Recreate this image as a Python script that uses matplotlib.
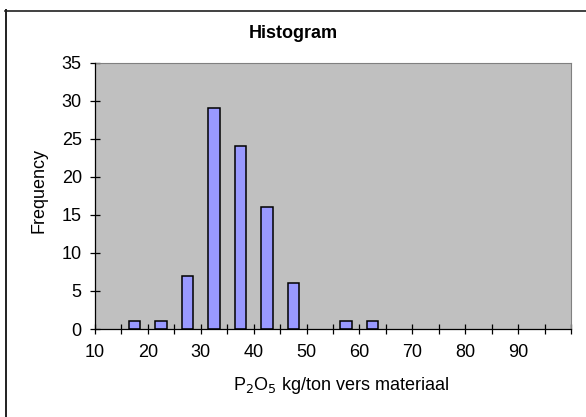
import matplotlib
matplotlib.use("Agg")
import matplotlib.pyplot as plt
from matplotlib.lines import Line2D
import numpy as np

# Histogram bins (lower edges, width 5) and frequencies
bin_lower = [10, 15, 20, 25, 30, 35, 40, 45, 50, 55, 60, 65, 70, 75, 80, 85, 90, 95]
counts = [0, 1, 1, 7, 29, 24, 16, 6, 0, 1, 1, 0, 0, 0, 0, 0, 0, 0]
bin_width = 5

x_ticks = list(range(10, 101, 5))
x_ticklabels = [str(t) if t % 10 == 0 and t < 100 else "" for t in x_ticks]
y_ticks = [0, 5, 10, 15, 20, 25, 30, 35]

plt.rc("font", family="Liberation Sans", size=13)

fig = plt.figure(figsize=(5.86, 4.17), dpi=100)
W, H = 586, 417
ax = fig.add_axes([95 / W, 1 - 329 / H, (571 - 95) / W, (329 - 62.6) / H])

centers = np.array(bin_lower) + bin_width / 2
heights = np.array(counts)
mask = heights > 0
ax.bar(centers[mask], heights[mask], width=2.2, color="#9999FF",
       edgecolor="black", linewidth=1.1, zorder=2)

ax.set_facecolor("#C0C0C0")
ax.set_xlim(10, 100)
ax.set_ylim(0, 35)
ax.set_xticks(x_ticks)
ax.set_xticklabels(x_ticklabels)
ax.set_yticks(y_ticks)
ax.tick_params(direction="inout", length=7, width=0.9, colors="black",
               labelsize=13, pad=6)
ax.tick_params(axis="x", pad=7)

for side in ("top", "right"):
    ax.spines[side].set_color("#808080")
    ax.spines[side].set_linewidth(0.8)
for side in ("left", "bottom"):
    ax.spines[side].set_color("black")
    ax.spines[side].set_linewidth(0.9)
    ax.spines[side].set_zorder(3)

fig.text(293 / W, 1 - 34 / H, "Histogram", ha="center", va="center",
         fontsize=13, fontweight="bold")
fig.text(341 / W, 1 - 386 / H, r"P$_2$O$_5$ kg/ton vers materiaal",
         ha="center", va="center", fontsize=13)
fig.text(39 / W, 1 - 190 / H, "Frequency", ha="center", va="center",
         rotation=90, fontsize=13)

# outer chart border (only top and left edges are inside the image)
fig.add_artist(Line2D([5.5 / W, 5.5 / W], [1 - 10 / H, 0], color="#202020",
                      linewidth=1.4, transform=fig.transFigure))
fig.add_artist(Line2D([5 / W, 1], [1 - 10.5 / H, 1 - 10.5 / H], color="#202020",
                      linewidth=1.2, transform=fig.transFigure))

fig.savefig("out.png", dpi=100)
